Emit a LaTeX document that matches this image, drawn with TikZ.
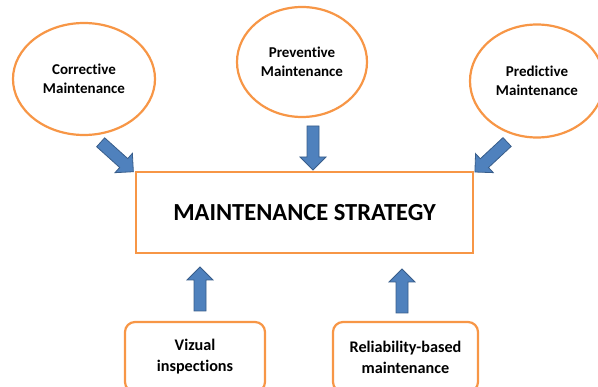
\documentclass[tikz,border=0pt]{standalone}
\usepackage{fontspec}
\setmainfont{Carlito}[Ligatures=NoCommon]
\usetikzlibrary{shapes.geometric}
\definecolor{boxorange}{HTML}{F79646}
\definecolor{arrowblue}{HTML}{4F81BD}
\definecolor{arrowedge}{HTML}{385D8A}
\begin{document}
\begin{tikzpicture}[x=1pt,y=-1pt,
  oval/.style={ellipse, draw=boxorange, line width=2.2pt, fill=white, inner sep=0pt,
    align=center, font=\fontsize{15}{19}\selectfont\bfseries},
  mainbox/.style={rectangle, draw=boxorange, line width=2.2pt, fill=white, inner sep=0pt,
    font=\fontsize{24.5}{28}\selectfont\bfseries},
  subbox/.style={rectangle, rounded corners=10pt, draw=boxorange, line width=2.2pt, fill=white,
    inner sep=0pt, align=center, font=\fontsize{16.2}{21}\selectfont\bfseries},
  blockarrow/.pic={
    \draw[draw=arrowedge, fill=arrowblue, line width=0.8pt, line join=miter]
      (-22,-6) -- (9,-6) -- (9,-13) -- (22,0) -- (9,13) -- (9,6) -- (-22,6) -- cycle;
  }]
\useasboundingbox (0,0) rectangle (598,387);

% the three maintenance approaches
\node[oval, minimum width=142pt, minimum height=112pt] (corr) at (84,79) {Corrective\\Maintenance};
\node[oval, minimum width=130pt, minimum height=110pt] (prev) at (302,62) {Preventive\\Maintenance};
\node[oval, minimum width=134pt, minimum height=113pt] (pred) at (537,81) {Predictive\\Maintenance};

% central strategy box
\node[mainbox, minimum width=337pt, minimum height=81pt] (strat) at (304.5,212.5) {MAINTENANCE STRATEGY};

% supporting activities
\node[subbox, minimum width=140pt, minimum height=70pt] (viz) at (195,357) {Vizual\\inspections};
\node[subbox, minimum width=145pt, minimum height=70pt] (rel) at (405.5,357) {Reliability-based\\maintenance};

% block arrows feeding the strategy
\pic[rotate=-42] at (117,157) {blockarrow};
\pic[rotate=-90] at (313,148) {blockarrow};
\pic[rotate=-137] at (491,157) {blockarrow};
\pic[rotate=90] at (200,289) {blockarrow};
\pic[rotate=90] at (402,291) {blockarrow};
\end{tikzpicture}
\end{document}
